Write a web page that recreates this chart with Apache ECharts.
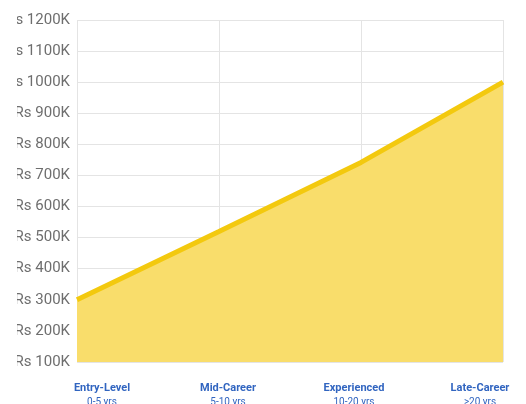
<!DOCTYPE html>
<html>
<head>
<meta charset="utf-8">
<script src="https://cdn.jsdelivr.net/npm/echarts@6/dist/echarts.min.js"></script>
<style>html,body{margin:0;padding:0;background:#fff}#c{width:526px;height:404px}</style>
</head>
<body>
<div id="c"></div>
<script>
var stages = ['Entry-Level', 'Mid-Career', 'Experienced', 'Late-Career'];
var yearRanges = ['0-5 yrs', '5-10 yrs', '10-20 yrs', '>20 yrs'];
var salaryK = [300, 520, 742, 1000];
var yMin = 100, yMax = 1200, yStep = 100;

var chart = echarts.init(document.getElementById('c'));
chart.setOption({
  animation: false,
  textStyle: { fontFamily: 'Roboto' },
  grid: [
    { left: 77, right: 23, top: 20, bottom: 42, outerBoundsMode: 'none' },
    { left: 102, right: 46, top: 20, bottom: 42, outerBoundsMode: 'none' }
  ],
  xAxis: [
    {
      type: 'category', gridIndex: 0, data: stages, boundaryGap: false,
      axisLine: { show: false }, axisTick: { show: false }, axisLabel: { show: false },
      splitLine: { show: true, lineStyle: { color: '#e4e4e4', width: 1 } }
    },
    {
      type: 'category', gridIndex: 1, data: stages, boundaryGap: false,
      axisLine: { show: false }, axisTick: { show: false }, splitLine: { show: false },
      axisLabel: {
        margin: 19,
        interval: 0,
        formatter: function (v, i) { return '{a|' + v + '}\n{b|' + yearRanges[i] + '}'; },
        rich: {
          a: { fontSize: 11, fontWeight: 'bold', color: '#3165c0', lineHeight: 14, fontFamily: 'Roboto' },
          b: { fontSize: 10, color: '#3165c0', lineHeight: 14, fontFamily: 'Roboto' }
        }
      }
    }
  ],
  yAxis: [
    {
      type: 'value', gridIndex: 0, min: yMin, max: yMax, interval: yStep,
      axisLine: { show: false }, axisTick: { show: false },
      axisLabel: { margin: 7, fontSize: 15, color: '#6e6e6e', formatter: function (v) { return 'Rs ' + v + 'K'; } },
      splitLine: { show: true, lineStyle: { color: '#e4e4e4', width: 1 } }
    },
    {
      type: 'value', gridIndex: 1, min: yMin, max: yMax, show: false
    }
  ],
  graphic: [
    { type: 'rect', left: 0, top: 0, shape: { width: 17, height: 380 }, style: { fill: '#fff' }, z: 100 }
  ],
  series: [
    {
      type: 'line', xAxisIndex: 0, yAxisIndex: 0, data: salaryK,
      symbol: 'none', smooth: false,
      lineStyle: { color: '#f3c90e', width: 5 },
      areaStyle: { color: '#f9dd6b', opacity: 1 }
    }
  ]
});
</script>
</body>
</html>
